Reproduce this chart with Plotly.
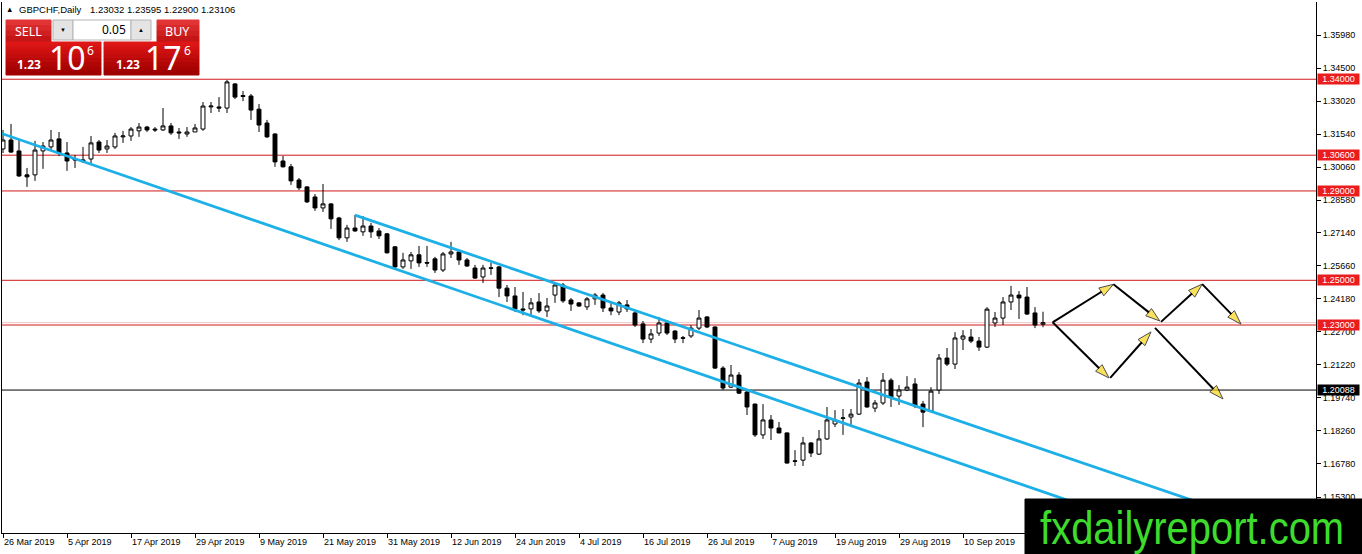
import plotly.graph_objects as go

symbol_title = "GBPCHF,Daily"
last_ohlc = "1.23032 1.23595 1.22900 1.23106"
watermark = "fxdailyreport.com"

# GBPCHF daily candles, 26 Mar 2019 .. 24 Sep 2019 (bar index = trading day)
opens = [1.3088, 1.3128, 1.3079, 1.2972, 1.2972, 1.3079, 1.3097, 1.3133, 1.3070, 1.3043,
         1.3039, 1.3043, 1.3119, 1.3088, 1.3097, 1.3142, 1.3146, 1.3169, 1.3186, 1.3177,
         1.3173, 1.3191, 1.3164, 1.3155, 1.3164, 1.3177, 1.3276, 1.3276, 1.3271, 1.3379,
         1.3327, 1.3325, 1.3266, 1.3204, 1.3155, 1.3034, 1.3008, 1.2949, 1.2918, 1.2873,
         1.2824, 1.2842, 1.2779, 1.2690, 1.2734, 1.2717, 1.2743, 1.2721, 1.2708, 1.2650,
         1.2560, 1.2587, 1.2614, 1.2580, 1.2596, 1.2546, 1.2618, 1.2627, 1.2591, 1.2555,
         1.2515, 1.2556, 1.2560, 1.2465, 1.2430, 1.2372, 1.2372, 1.2403, 1.2363, 1.2434,
         1.2479, 1.2412, 1.2399, 1.2381, 1.2417, 1.2434, 1.2376, 1.2358, 1.2390, 1.2354,
         1.2305, 1.2237, 1.2264, 1.2309, 1.2273, 1.2243, 1.2251, 1.2286, 1.2336, 1.2291,
         1.2107, 1.2022, 1.2076, 1.2000, 1.1946, 1.1808, 1.1875, 1.1839, 1.1817, 1.1692,
         1.1695, 1.1772, 1.1722, 1.1790, 1.1857, 1.1882, 1.1888, 1.1901, 1.2045, 1.1928,
         1.1951, 1.2053, 1.1982, 1.2009, 1.2036, 1.1946, 1.1915, 1.2009, 1.2152, 1.2125,
         1.2237, 1.2246, 1.2228, 1.2201, 1.2309, 1.2331, 1.2403, 1.2434, 1.2425, 1.2354,
         1.23032]
highs = [1.3173, 1.3200, 1.3133, 1.3003, 1.3124, 1.3119, 1.3173, 1.3164, 1.3119, 1.3061,
         1.3097, 1.3146, 1.3128, 1.3128, 1.3160, 1.3169, 1.3186, 1.3204, 1.3191, 1.3186,
         1.3271, 1.3204, 1.3182, 1.3186, 1.3200, 1.3298, 1.3298, 1.3320, 1.3397, 1.3383,
         1.3347, 1.3334, 1.3289, 1.3218, 1.3158, 1.3057, 1.3021, 1.2958, 1.2922, 1.2886,
         1.2931, 1.2846, 1.2784, 1.2748, 1.2793, 1.2788, 1.2757, 1.2734, 1.2712, 1.2652,
         1.2623, 1.2627, 1.2654, 1.2654, 1.2605, 1.2627, 1.2672, 1.2636, 1.2600, 1.2569,
         1.2569, 1.2578, 1.2564, 1.2479, 1.2470, 1.2448, 1.2421, 1.2443, 1.2421, 1.2492,
         1.2488, 1.2421, 1.2403, 1.2425, 1.2443, 1.2443, 1.2399, 1.2408, 1.2412, 1.2367,
         1.2318, 1.2282, 1.2336, 1.2322, 1.2277, 1.2251, 1.2300, 1.2367, 1.2340, 1.2294,
         1.2116, 1.2121, 1.2089, 1.2009, 1.1948, 1.1946, 1.1897, 1.1866, 1.1819, 1.1740,
         1.1799, 1.1776, 1.1830, 1.1933, 1.1919, 1.1924, 1.1924, 1.2058, 1.2067, 1.1964,
         1.2085, 1.2062, 1.2031, 1.2071, 1.2062, 1.1960, 1.2022, 1.2170, 1.2197, 1.2268,
         1.2277, 1.2282, 1.2246, 1.2380, 1.2358, 1.2425, 1.2475, 1.2452, 1.2470, 1.2380,
         1.23595]
lows = [1.3070, 1.3070, 1.2963, 1.2918, 1.2945, 1.2999, 1.3083, 1.3056, 1.2990, 1.3003,
        1.3025, 1.3025, 1.3070, 1.3070, 1.3088, 1.3115, 1.3124, 1.3142, 1.3164, 1.3164,
        1.3169, 1.3151, 1.3133, 1.3142, 1.3164, 1.3169, 1.3249, 1.3253, 1.3249, 1.3311,
        1.3302, 1.3218, 1.3164, 1.3137, 1.3008, 1.3005, 1.2927, 1.2904, 1.2846, 1.2811,
        1.2806, 1.2730, 1.2680, 1.2672, 1.2717, 1.2699, 1.2690, 1.2685, 1.2620, 1.2555,
        1.2551, 1.2551, 1.2560, 1.2560, 1.2533, 1.2537, 1.2600, 1.2569, 1.2560, 1.2506,
        1.2488, 1.2524, 1.2425, 1.2403, 1.2358, 1.2344, 1.2344, 1.2354, 1.2336, 1.2399,
        1.2399, 1.2363, 1.2381, 1.2367, 1.2390, 1.2358, 1.2344, 1.2344, 1.2358, 1.2291,
        1.2219, 1.2219, 1.2251, 1.2255, 1.2219, 1.2219, 1.2242, 1.2277, 1.2286, 1.2103,
        1.2009, 1.2018, 1.1991, 1.1897, 1.1799, 1.1790, 1.1785, 1.1815, 1.1680, 1.1669,
        1.1669, 1.1709, 1.1718, 1.1785, 1.1843, 1.1808, 1.1843, 1.1897, 1.1930, 1.1910,
        1.1942, 1.1933, 1.1942, 1.2004, 1.1928, 1.1843, 1.1910, 1.1991, 1.2116, 1.2103,
        1.2188, 1.2219, 1.2184, 1.2197, 1.2291, 1.2300, 1.2367, 1.2327, 1.2345, 1.2286,
        1.22900]
closes = [1.3128, 1.3074, 1.2967, 1.2963, 1.3083, 1.3101, 1.3128, 1.3070, 1.3034, 1.3039,
          1.3034, 1.3115, 1.3083, 1.3101, 1.3146, 1.3146, 1.3177, 1.3186, 1.3173, 1.3173,
          1.3191, 1.3160, 1.3160, 1.3164, 1.3182, 1.3280, 1.3280, 1.3271, 1.3388, 1.3320,
          1.3323, 1.3262, 1.3195, 1.3142, 1.3030, 1.3008, 1.2945, 1.2914, 1.2851, 1.2824,
          1.2842, 1.2775, 1.2690, 1.2734, 1.2721, 1.2743, 1.2717, 1.2699, 1.2623, 1.2560,
          1.2591, 1.2614, 1.2578, 1.2577, 1.2546, 1.2618, 1.2627, 1.2591, 1.2564, 1.2510,
          1.2555, 1.2554, 1.2465, 1.2430, 1.2372, 1.2367, 1.2399, 1.2363, 1.2385, 1.2479,
          1.2408, 1.2394, 1.2385, 1.2417, 1.2434, 1.2376, 1.2363, 1.2399, 1.2372, 1.2300,
          1.2237, 1.2260, 1.2309, 1.2264, 1.2237, 1.2241, 1.2286, 1.2331, 1.2291, 1.2107,
          1.2018, 1.2076, 1.1995, 1.1933, 1.1808, 1.1875, 1.1839, 1.1817, 1.1682, 1.1690,
          1.1772, 1.1727, 1.1790, 1.1875, 1.1875, 1.1884, 1.1901, 1.2040, 1.1933, 1.1951,
          1.2053, 1.1977, 1.2009, 1.2022, 1.1937, 1.1910, 1.2004, 1.2152, 1.2125, 1.2242,
          1.2251, 1.2228, 1.2201, 1.2371, 1.2331, 1.2403, 1.2434, 1.2421, 1.2349, 1.2300,
          1.23106]
bars = list(range(len(opens)))

tick_bars = [0, 8, 16, 24, 32, 40, 48, 56, 64, 72, 80, 88, 96, 104, 112, 120]
tick_dates = ["26 Mar 2019", "5 Apr 2019", "17 Apr 2019", "29 Apr 2019", "9 May 2019",
              "21 May 2019", "31 May 2019", "12 Jun 2019", "24 Jun 2019", "4 Jul 2019",
              "16 Jul 2019", "26 Jul 2019", "7 Aug 2019", "19 Aug 2019", "29 Aug 2019",
              "10 Sep 2019"]
price_ticks = [1.35980, 1.34500, 1.33020, 1.31540, 1.30060, 1.28580, 1.27140, 1.25660,
               1.24180, 1.22700, 1.21220, 1.19740, 1.18260, 1.16780, 1.15300]

red_levels = [1.34000, 1.30600, 1.29000, 1.25000, 1.23000]
black_level = 1.20088
bid = 1.23106

# channel lines: two anchor points each (bar, price), drawn as rays
trend_a_bars = [0, 110]
trend_a_prices = [1.3155, 1.1800]
trend_b_bars = [44, 110]
trend_b_prices = [1.2792, 1.1987]

# projected scenario arrows
arrow_from_bar = [131.2, 138.8, 144.75, 149.9, 131.2, 138.4, 144.0]
arrow_from_price = [1.2312, 1.2482, 1.2314, 1.2483, 1.2312, 1.2063, 1.2287]
arrow_to_bar = [138.8, 144.6, 149.9, 154.75, 138.25, 143.5, 152.5]
arrow_to_price = [1.2482, 1.2318, 1.2483, 1.2304, 1.2063, 1.2269, 1.1969]

W, H = 1362, 554
ML, MR, MT, MB = 2, 46, 2, 21
PW, PH = W - ML - MR, H - MT - MB
FONT = "Tahoma, Liberation Sans, Arial"


def fx(p):
    return (p - ML) / PW


def fy(p):
    return 1 - (p - MT) / PH


def line_through(b, p, xs):
    slope = (p[1] - p[0]) / (b[1] - b[0])
    return [p[0] + slope * (x - b[0]) for x in xs]


fig = go.Figure()
fig.add_trace(go.Candlestick(
    x=bars, open=opens, high=highs, low=lows, close=closes,
    increasing=dict(line=dict(color="black", width=1), fillcolor="white"),
    decreasing=dict(line=dict(color="black", width=1), fillcolor="black"),
    showlegend=False, hoverinfo="skip"))

# line A runs in from the left edge, line B starts at its first anchor
xa = [-2, 175]
fig.add_trace(go.Scatter(x=xa, y=line_through(trend_a_bars, trend_a_prices, xa), mode="lines",
                         line=dict(color="#1db0e6", width=2.8), showlegend=False, hoverinfo="skip"))
xb = [trend_b_bars[0], 175]
fig.add_trace(go.Scatter(x=xb, y=line_through(trend_b_bars, trend_b_prices, xb), mode="lines",
                         line=dict(color="#1db0e6", width=2.8), showlegend=False, hoverinfo="skip"))

for i in range(len(arrow_from_bar)):
    fig.add_trace(go.Scatter(
        x=[arrow_from_bar[i], arrow_to_bar[i]], y=[arrow_from_price[i], arrow_to_price[i]],
        mode="lines+markers", line=dict(color="black", width=2),
        marker=dict(symbol="arrow", angleref="previous", size=[0, 15], color="#f7d51a",
                    line=dict(color="black", width=1)),
        showlegend=False, hoverinfo="skip"))

shapes = []
for lv in red_levels:
    shapes.append(dict(type="line", xref="paper", x0=0, x1=1, yref="y", y0=lv, y1=lv,
                       line=dict(color="#d01818", width=1), layer="below"))
shapes.append(dict(type="line", xref="paper", x0=0, x1=1, yref="y", y0=bid, y1=bid,
                   line=dict(color="#f2c4c4", width=1), layer="below"))
shapes.append(dict(type="line", xref="paper", x0=0, x1=1, yref="y", y0=black_level, y1=black_level,
                   line=dict(color="black", width=1), layer="below"))


def rect(x0, y0, x1, y1, fill, line=None):
    shapes.append(dict(type="rect", xref="paper", yref="paper",
                       x0=fx(x0), x1=fx(x1), y0=fy(y0), y1=fy(y1), fillcolor=fill,
                       line=dict(color=line or fill, width=1), layer="above"))


def banded(x0, y0, x1, y1, top, bottom, n=8):
    step = (y1 - y0) / n
    for k in range(n):
        t = k / (n - 1)
        c = tuple(int(top[j] + (bottom[j] - top[j]) * t) for j in range(3))
        rect(x0, y0 + k * step, x1, y0 + (k + 1) * step, "rgb(%d,%d,%d)" % c)


# trade panel
banded(6, 20, 51, 42, (226, 52, 52), (196, 22, 22), 4)
banded(157, 20, 199, 42, (226, 52, 52), (196, 22, 22), 4)
banded(6, 42, 101, 75, (222, 22, 22), (160, 0, 0))
banded(104, 42, 199, 75, (222, 22, 22), (160, 0, 0))
rect(53, 20, 73, 40, "#e4e4e4", "#b4b4b4")
rect(73, 20, 131, 40, "white", "#b4b4b4")
rect(131, 20, 151, 40, "#e4e4e4", "#b4b4b4")

# watermark banner
rect(1025, 499, 1362, 554, "black")

ann = []


def text(x, y, s, size, color="black", anchor="left", family=FONT, bold=False):
    if bold:
        s = "<b>" + s + "</b>"
    ann.append(dict(xref="paper", yref="paper", x=fx(x), y=fy(y), text=s, showarrow=False,
                    xanchor=anchor, yanchor="middle", font=dict(size=size, color=color, family=family)))


text(4, 9, "▲", 7.5)
text(17, 9, symbol_title, 9.5)
text(88, 9, last_ohlc, 9.5)
text(28.5, 31, "SELL", 12.5, "white", "center", "Noto Sans")
text(177.5, 31, "BUY", 12.5, "white", "center", "Noto Sans")
text(128, 30, "0.05", 12, "black", "right", "Noto Sans")
text(63, 30, "▼", 6, "black", "center")
text(141, 30, "▲", 6, "black", "center")
text(43, 64, "1.23", 12, "white", "right", "Noto Sans", True)
text(67, 58, "10", 32, "white", "center", "Noto Sans")
text(90, 51, "6", 12, "white", "center", "Noto Sans")
text(142, 64, "1.23", 12, "white", "right", "Noto Sans", True)
text(163, 58, "17", 32, "white", "center", "Noto Sans")
text(187, 51, "6", 12, "white", "center", "Noto Sans")
text(1192, 528, watermark, 46, "#3ddc2c", "center", "Liberation Sans Narrow, Liberation Sans")

for lv in red_levels + [black_level]:
    ann.append(dict(xref="paper", yref="y", x=1, y=lv, xanchor="left", yanchor="middle", xshift=1,
                    text="%.5f" % lv, showarrow=False, width=41, height=10, borderpad=0,
                    bgcolor="black" if lv == black_level else "#ea1c1c",
                    font=dict(size=9, color="white", family=FONT)))

fig.update_layout(
    width=W, height=H, margin=dict(l=ML, r=MR, t=MT, b=MB),
    paper_bgcolor="white", plot_bgcolor="white", hovermode=False,
    shapes=shapes, annotations=ann,
    xaxis=dict(range=[-0.125, 164.125], tickvals=tick_bars, ticktext=tick_dates,
               ticks="outside", ticklen=4, tickcolor="black", showline=True, linecolor="black",
               linewidth=1, showgrid=False, zeroline=False, ticklabelposition="outside right",
               tickfont=dict(size=9, color="black", family=FONT), rangeslider=dict(visible=False)),
    yaxis=dict(range=[1.13690, 1.37457], side="right", tickvals=price_ticks,
               ticktext=["%.5f" % v for v in price_ticks], ticks="outside", ticklen=4,
               tickcolor="black", showline=True, mirror=True, linecolor="black", linewidth=1,
               showgrid=False, zeroline=False, tickfont=dict(size=9, color="black", family=FONT)),
)

# page without body margin; squeeze the watermark into the narrow width of the original
post = """
document.body.style.margin = '0';
document.body.style.overflow = 'hidden';
var gd = document.getElementById('{plot_id}');
gd.querySelectorAll('text').forEach(function (t) {
    if (t.textContent === '%s') {
        t.setAttribute('textLength', '304');
        t.setAttribute('lengthAdjust', 'spacingAndGlyphs');
    }
});
""" % watermark

fig.write_html("out.html", config={"displayModeBar": False}, post_script=post)
